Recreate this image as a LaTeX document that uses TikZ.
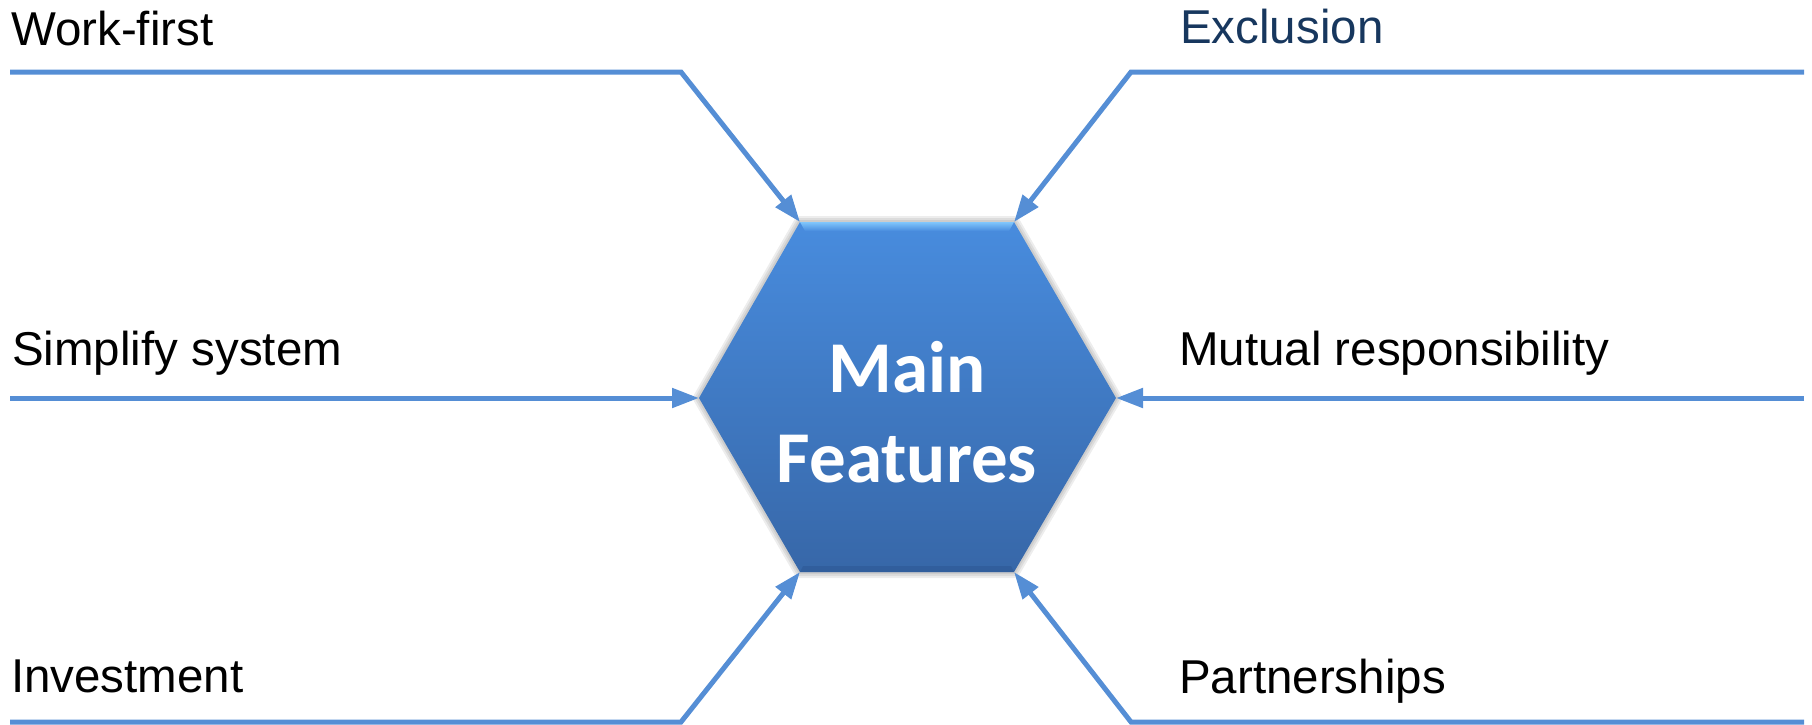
\documentclass[tikz,border=0pt]{standalone}
\usepackage{fontspec}
\setmainfont{Liberation Sans}
\newfontfamily\carlito{Carlito}
\usetikzlibrary{arrows.meta}
\definecolor{lineblue}{RGB}{85,142,213}
\definecolor{navy}{RGB}{23,55,94}
\definecolor{hextop}{RGB}{72,140,222}
\definecolor{hexbot}{RGB}{55,103,168}
\definecolor{bevel}{RGB}{128,198,252}
\definecolor{hexedge}{RGB}{44,86,146}
\begin{document}
\begin{tikzpicture}[x=1pt,y=-1pt,
  conn/.style={draw=lineblue, line width=5pt, -{Triangle[length=27pt,width=19pt]}, line join=miter},
  lbl/.style={anchor=base west, inner sep=0pt, font=\fontsize{47.5}{56}\selectfont},
  ttl/.style={anchor=base, inner sep=0pt, text=white, font=\carlito\bfseries\fontsize{73}{86}\selectfont},
  hexshadow/.style={draw=black, opacity=0.07, line join=round}]
\useasboundingbox (0,0) rectangle (1812,724);
% hexagon corners
\coordinate (hTL) at (800,222);
\coordinate (hTR) at (1014,222);
\coordinate (hR) at (1116,398);
\coordinate (hBR) at (1014,572);
\coordinate (hBL) at (800,572);
\coordinate (hL) at (699,398);
% soft shadow
\foreach \w in {12,8,4}{
  \draw[hexshadow, line width=\w pt, shift={(2,3)}] (hTL) -- (hTR) -- (hR) -- (hBR) -- (hBL) -- (hL) -- cycle;
}
% hexagon body
\shade[top color=hextop, bottom color=hexbot] (hTL) -- (hTR) -- (hR) -- (hBR) -- (hBL) -- (hL) -- cycle;
% top bevel highlight
\shade[top color=bevel, bottom color=hextop] (800,222) -- (1014,222) -- (1009,231) -- (805,231) -- cycle;
% bottom darker edge
\fill[hexedge, opacity=0.5] (800,572) -- (1014,572) -- (1011,566) -- (803,566) -- cycle;
% title
\node[ttl] (main1) at (907,392) {Main};
\node[ttl] (main2) at (907,482) {Features};
% connector end points
\coordinate (a1) at (10,72);    \coordinate (k1) at (681,72);
\coordinate (a2) at (1804,72);  \coordinate (k2) at (1131,72);
\coordinate (a3) at (10,398);
\coordinate (a4) at (1804,398);
\coordinate (a5) at (10,722);   \coordinate (k5) at (681,722);
\coordinate (a6) at (1804,722); \coordinate (k6) at (1131,722);
% connectors
\draw[conn] (a1) -- (k1) -- (hTL);
\draw[conn] (a2) -- (k2) -- (hTR);
\draw[conn] (a3) -- (hL);
\draw[conn] (a4) -- (hR);
\draw[conn] (a5) -- (k5) -- (hBL);
\draw[conn] (a6) -- (k6) -- (hBR);
% labels
\node[lbl] (work) at (11,45) {Work-first};
\node[lbl] (simp) at (12,365) {Simplify system};
\node[lbl] (inv) at (11,692) {Investment};
\node[lbl, text=navy] (excl) at (1180,43) {Exclusion};
\node[lbl] (mut) at (1179,365) {Mutual responsibility};
\node[lbl] (part) at (1179,693) {Partnerships};
\end{tikzpicture}
\end{document}
